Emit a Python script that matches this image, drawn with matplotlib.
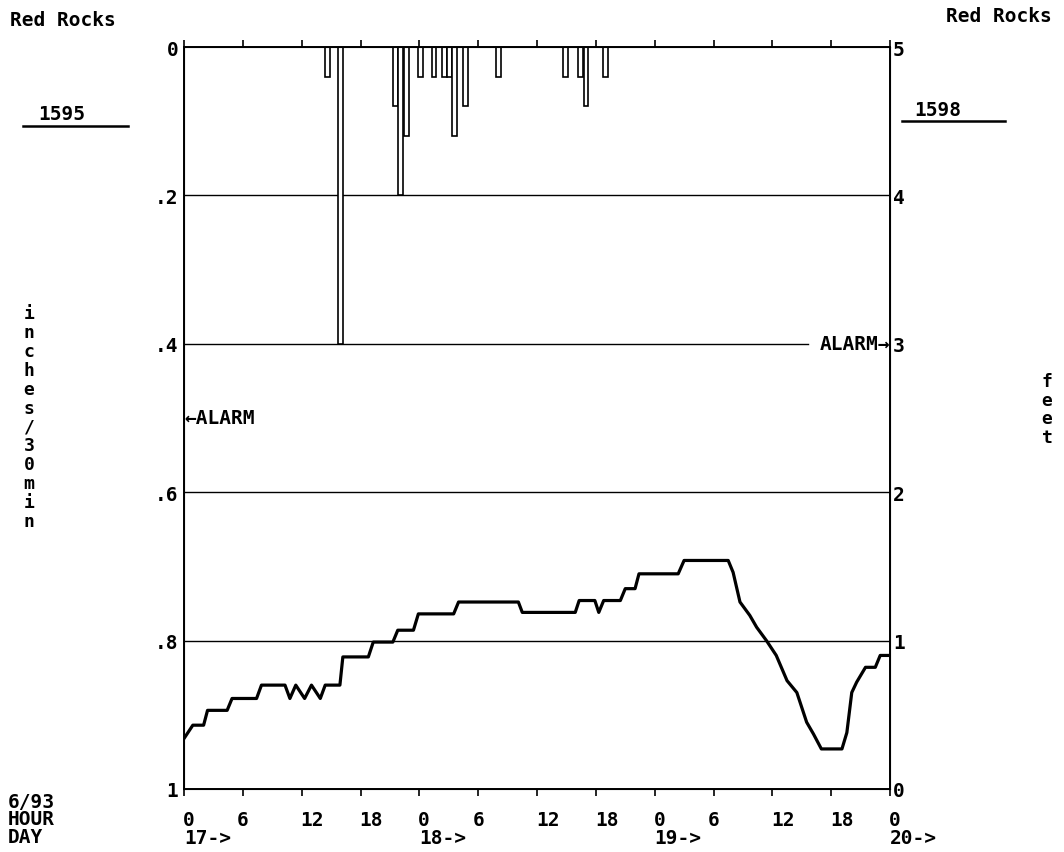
import matplotlib
matplotlib.use("Agg")
import matplotlib.pyplot as plt
import matplotlib.transforms as mtransforms
from matplotlib.lines import Line2D

plt.rcParams['font.family'] = ['DejaVu Sans Mono']
plt.rcParams['font.weight'] = 'bold'

# rain, inches per 30 min (bar centre hour, depth)
rain_hours = [14.6, 16.0, 21.6, 22.1, 22.65, 24.1, 25.5, 26.6, 27.1, 27.6,
              28.7, 32.1, 38.95, 40.4, 41.0, 43.0]
rain_in = [0.04, 0.40, 0.08, 0.20, 0.12, 0.04, 0.04, 0.04, 0.04, 0.12,
           0.08, 0.04, 0.04, 0.04, 0.08, 0.04]

# stage, feet
stage_hours = [0.0, 0.3, 0.9, 2.0, 2.4, 4.4, 4.9, 7.4, 7.9, 10.3, 10.8, 11.4,
               12.3, 13.0, 13.9, 14.4, 15.9, 16.2, 18.8, 19.3, 21.3, 21.8,
               23.4, 23.9, 27.5, 28.0, 34.1, 34.5, 39.9, 40.3, 41.9, 42.3,
               42.8, 44.5, 45.0, 46.0, 46.4, 50.4, 51.0, 55.5, 56.0, 56.7,
               57.7, 58.4, 59.4, 60.4, 61.5, 62.5, 63.5, 64.2, 65.0, 67.1,
               67.6, 68.1, 68.6, 69.5, 70.5, 71.0, 72.0]
stage_ft = [0.34, 0.37, 0.43, 0.43, 0.53, 0.53, 0.61, 0.61, 0.70, 0.70, 0.61,
            0.70, 0.61, 0.70, 0.61, 0.70, 0.70, 0.89, 0.89, 0.99, 0.99, 1.07,
            1.07, 1.18, 1.18, 1.26, 1.26, 1.19, 1.19, 1.27, 1.27, 1.19, 1.27,
            1.27, 1.35, 1.35, 1.45, 1.45, 1.54, 1.54, 1.46, 1.26, 1.17, 1.09,
            1.00, 0.90, 0.73, 0.65, 0.45, 0.37, 0.27, 0.27, 0.38, 0.65, 0.72,
            0.82, 0.82, 0.90, 0.90]

hour_ticks = list(range(0, 73, 6))
hour_labels = ['0', '6', '12', '18', '0', '6', '12', '18', '0', '6', '12', '18', '0']
day_ticks = [0, 24, 48, 72]
day_labels = ['17->', '18->', '19->', '20->']
left_ticks = [0, 0.2, 0.4, 0.6, 0.8, 1.0]
left_labels = ['0', '.2', '.4', '.6', '.8', '1']
right_ticks = [0, 1, 2, 3, 4, 5]
right_labels = ['0', '1', '2', '3', '4', '5']

fs = 14
fig = plt.figure(figsize=(10.64, 8.53), dpi=100)
ax = fig.add_axes([184/1064, 1 - 790/853, 706/1064, 742/853])

ax.bar(rain_hours, rain_in, width=0.5, bottom=0, facecolor='white',
       edgecolor='black', linewidth=1.2, zorder=3)
ax.set_xlim(0, 72)
ax.set_ylim(1, 0)

for g in [0.2, 0.6, 0.8]:
    ax.axhline(g, color='black', lw=1.0, zorder=1)
ax.axhline(0.4, xmax=(808 - 184) / 706, color='black', lw=1.0, zorder=1)

ax.set_yticks(left_ticks)
ax.set_yticklabels(left_labels, fontsize=fs, fontweight='bold')
ax.tick_params(axis='y', length=0, pad=4)

ax.set_xticks(hour_ticks)
ax.set_xticklabels(hour_labels, fontsize=fs, fontweight='bold')
ax.tick_params(axis='x', which='both', direction='out', length=5, width=1.2,
               top=True, pad=10)
for lbl in ax.get_xticklabels():
    lbl.set_ha('center' if lbl.get_text() == '6' else 'left')
    if lbl.get_text() != '6':
        lbl.set_transform(lbl.get_transform() + mtransforms.ScaledTranslation(-1/100, 0, fig.dpi_scale_trans))

for s in ax.spines.values():
    s.set_linewidth(1.4)

ax2 = ax.twinx()
ax2.plot(stage_hours, stage_ft, color='black', lw=2.3, zorder=4)
ax2.set_ylim(0, 5)
ax2.set_yticks(right_ticks)
ax2.set_yticklabels(right_labels, fontsize=fs, fontweight='bold')
ax2.tick_params(axis='y', length=0, pad=2)

# day labels under hour labels
trans = mtransforms.blended_transform_factory(ax.transData, ax.transAxes)
for d, lab in zip(day_ticks, day_labels):
    ax.text(d, -0.066, lab, transform=trans, ha='left', va='center',
            fontsize=fs, fontweight='bold', clip_on=False)

# alarms
tl = mtransforms.blended_transform_factory(ax.transAxes, ax.transData)
ax.text(0.0, 0.5, '←ALARM', transform=tl, ha='left', va='center',
        fontsize=fs, fontweight='bold')
ax.text(1.0, 0.4, 'ALARM→', transform=tl, ha='right', va='center',
        fontsize=fs, fontweight='bold')

# titles / labels around
fig.text(10/1064, 1 - 20/853, 'Red Rocks', ha='left', va='center', fontsize=fs, fontweight='bold')
fig.text(1052/1064, 1 - 17/853, 'Red Rocks', ha='right', va='center', fontsize=fs, fontweight='bold')
fig.text(62/1064, 1 - 115/853, '1595', ha='center', va='center', fontsize=fs, fontweight='bold')
fig.text(938/1064, 1 - 111/853, '1598', ha='center', va='center', fontsize=fs, fontweight='bold')
fig.add_artist(Line2D([23/1064, 128/1064], [1 - 127/853, 1 - 127/853], color='black', lw=1.8))
fig.add_artist(Line2D([902/1064, 1005/1064], [1 - 122/853, 1 - 122/853], color='black', lw=1.8))

fig.text(29/1064, 1 - 418/853, '\n'.join('inches/30min'), ha='center', va='center',
         fontsize=13, fontweight='bold', linespacing=1.07)
fig.text(1047/1064, 1 - 410/853, '\n'.join('feet'), ha='center', va='center',
         fontsize=13, fontweight='bold', linespacing=1.07)

fig.text(8/1064, 1 - 803/853, '6/93', ha='left', va='center', fontsize=fs, fontweight='bold')
fig.text(8/1064, 1 - 820/853, 'HOUR', ha='left', va='center', fontsize=fs, fontweight='bold')
fig.text(8/1064, 1 - 838/853, 'DAY', ha='left', va='center', fontsize=fs, fontweight='bold')

fig.savefig('out.png', dpi=100)
